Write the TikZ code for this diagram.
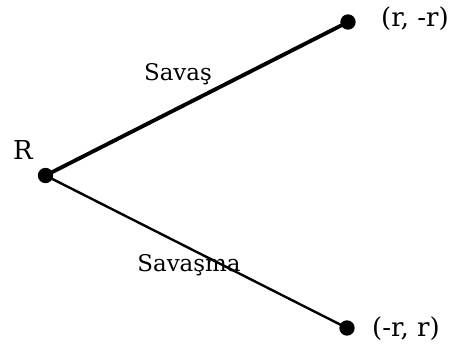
\documentclass[tikz,border=0pt]{standalone}
\usepackage{fontspec}
\setmainfont{DejaVu Serif}
\usepackage{tikz}
\usetikzlibrary{positioning}
\definecolor{trLine}{RGB}{0,0,0}

\begin{document}
\begin{tikzpicture}[x=0.75pt, y=-0.75pt,
  dot/.style={circle, fill=trLine, inner sep=0pt, minimum size=11.5pt},
  lbl/.style={anchor=base, inner sep=0pt, font=\fontsize{17.2}{19}\selectfont},
  coordlbl/.style={anchor=base, inner sep=0pt, font=\fontsize{19.5}{21}\selectfont}]
\useasboundingbox (0,0) rectangle (451,345);
% points
\node[dot] (root) at (45.5,175.5) {};
\node[dot] (up) at (348,22) {};
\node[dot] (down) at (347,328) {};
% branches
\draw[trLine, line width=2.9pt] (root.center) -- (up.center);
\draw[trLine, line width=1.8pt] (root.center) -- (down.center);
% labels
\node[coordlbl] (rlbl) at (23,160) {R};
\node[coordlbl] (uplbl) at (415,27) {(r, -r)};
\node[coordlbl] (downlbl) at (406,337) {(-r, r)};
\node[lbl] (war) at (178,81) {Savaş};
\node[lbl] (nowar) at (189,272) {Savaşma};
\end{tikzpicture}
\end{document}
